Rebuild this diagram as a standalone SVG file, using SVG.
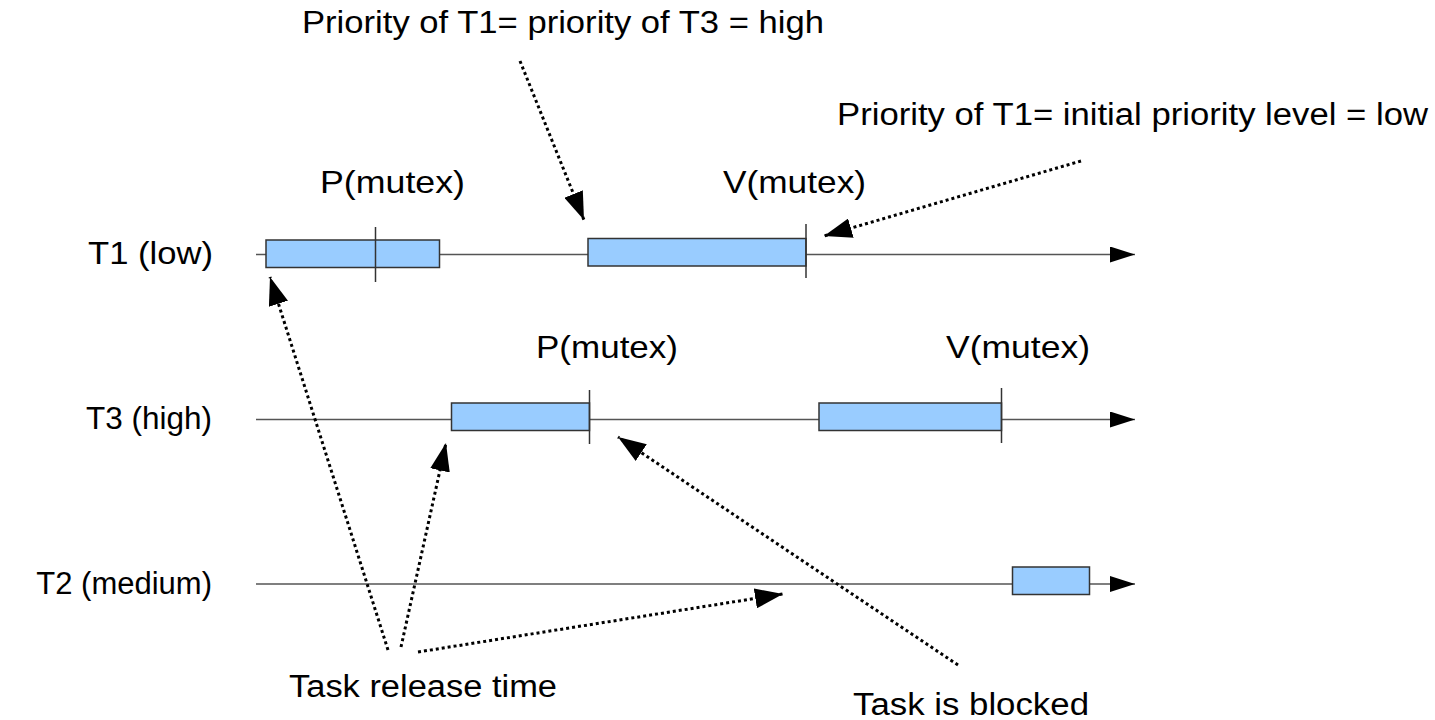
<svg xmlns="http://www.w3.org/2000/svg" width="1435" height="720" viewBox="0 0 1435 720">
<defs>
<style>
text{font-family:"Liberation Sans",Arial,sans-serif;fill:#000;}
.lbl{font-size:31px;}
.tl{stroke:#555;stroke-width:1.5;fill:none;}
.box{fill:#99ccff;stroke:#333;stroke-width:1.5;}
.tick{stroke:#333;stroke-width:1.5;}
.dot{stroke:#000;stroke-width:3;stroke-dasharray:3 3;fill:none;}
</style>
<marker id="ah" markerUnits="userSpaceOnUse" markerWidth="30" markerHeight="20" refX="28" refY="10" orient="auto">
<path d="M0,0 L28,10 L0,20 z" fill="#000"/>
</marker>
<marker id="th" markerUnits="userSpaceOnUse" markerWidth="26" markerHeight="16" refX="25" refY="8" orient="auto">
<path d="M0,0 L25,8 L0,16 z" fill="#000"/>
</marker>
</defs>
<rect width="1435" height="720" fill="#fff"/>

<g id="connectors">
<line class="tl" x1="256" y1="254.5" x2="1135" y2="254.5" marker-end="url(#th)"/>
<line class="tl" x1="256" y1="419.5" x2="1135" y2="419.5" marker-end="url(#th)"/>
<line class="tl" x1="256" y1="584" x2="1135" y2="584" marker-end="url(#th)"/>
<line class="dot" x1="520" y1="61" x2="584" y2="220" marker-end="url(#ah)"/>
<line class="dot" x1="1081" y1="161" x2="824" y2="236" marker-end="url(#ah)"/>
<line class="dot" x1="388" y1="650" x2="270" y2="277" marker-end="url(#ah)"/>
<line class="dot" x1="401" y1="647" x2="446" y2="443" marker-end="url(#ah)"/>
<line class="dot" x1="418" y1="652" x2="783" y2="594" marker-end="url(#ah)"/>
<line class="dot" x1="958" y1="665" x2="618" y2="437" marker-end="url(#ah)"/>
</g>

<g id="t1">
<text class="lbl" x="88" y="264" textLength="125" lengthAdjust="spacingAndGlyphs">T1 (low)</text>
<rect class="box" x="266" y="240" width="173.5" height="27.5"/>
<line class="tick" x1="375.5" y1="227" x2="375.5" y2="282"/>
<rect class="box" x="588" y="238.5" width="218" height="27.5"/>
<line class="tick" x1="806" y1="224" x2="806" y2="278"/>
<text class="lbl" x="320" y="193" style="font-size:32px" textLength="145" lengthAdjust="spacingAndGlyphs">P(mutex)</text>
<text class="lbl" x="723" y="193" style="font-size:32px" textLength="143" lengthAdjust="spacingAndGlyphs">V(mutex)</text>
</g>

<g id="t3">
<text class="lbl" x="86" y="429" textLength="126" lengthAdjust="spacingAndGlyphs">T3 (high)</text>
<rect class="box" x="451.5" y="403" width="138" height="27.5"/>
<line class="tick" x1="589.5" y1="390" x2="589.5" y2="444"/>
<rect class="box" x="819" y="403" width="182.5" height="27.5"/>
<line class="tick" x1="1001.5" y1="388" x2="1001.5" y2="443"/>
<text class="lbl" x="536" y="358" style="font-size:32px" textLength="142" lengthAdjust="spacingAndGlyphs">P(mutex)</text>
<text class="lbl" x="946" y="358" style="font-size:32px" textLength="144" lengthAdjust="spacingAndGlyphs">V(mutex)</text>
</g>

<g id="t2">
<text class="lbl" x="212" y="594" text-anchor="end">T2 (medium)</text>
<rect class="box" x="1012.5" y="567" width="77" height="27.5"/>
</g>

<g id="notes">
<text class="lbl" x="302" y="33" textLength="522" lengthAdjust="spacingAndGlyphs">Priority of T1= priority of T3 = high</text>
<text class="lbl" x="837" y="125" textLength="591" lengthAdjust="spacingAndGlyphs">Priority of T1= initial priority level = low</text>
<text class="lbl" x="289" y="697" textLength="268" lengthAdjust="spacingAndGlyphs">Task release time</text>
<text class="lbl" x="853" y="715" textLength="236" lengthAdjust="spacingAndGlyphs">Task is blocked</text>
</g>
</svg>
